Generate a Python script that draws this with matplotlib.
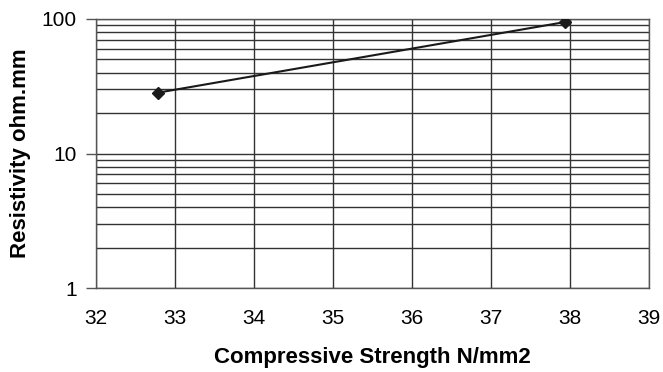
import numpy as np
import matplotlib.pyplot as plt
from matplotlib.ticker import LogLocator, NullFormatter

plt.rcParams['font.family'] = ['Liberation Sans', 'DejaVu Sans']

# compressive strength vs resistivity
strength = [32.78, 37.94]
resistivity = [28.3, 95.0]

x_ticks = [32, 33, 34, 35, 36, 37, 38, 39]
y_ticks = [1, 10, 100]
y_labels = ['1', '10', '100']

fig = plt.figure(figsize=(6.63, 3.72), dpi=100)
ax = fig.add_axes([96 / 663, 1 - 288 / 372, (649 - 96) / 663, (288 - 19) / 372])

ax.plot(strength, resistivity, color='#1a1a1a', lw=1.5, marker='D', ms=6, zorder=3)

ax.set_yscale('log')
ax.set_xlim(32, 39)
ax.set_ylim(1, 100)
ax.set_xticks(x_ticks)
ax.set_yticks(y_ticks)
ax.set_yticklabels(y_labels)
ax.yaxis.set_minor_locator(LogLocator(base=10, subs=np.arange(2, 10)))
ax.yaxis.set_minor_formatter(NullFormatter())

ax.grid(True, which='both', axis='y', color='#333333', lw=1.0)
ax.grid(True, which='major', axis='x', color='#333333', lw=1.0)
ax.tick_params(axis='y', which='major', length=7, width=1, color='#555555', labelsize=15, pad=7)
ax.tick_params(axis='y', which='minor', length=0)
ax.tick_params(axis='x', length=0, labelsize=15, pad=15)
for s in ax.spines.values():
    s.set_color('#555555')
    s.set_linewidth(1.0)

ax.set_xlabel('Compressive Strength N/mm2', fontsize=16, fontweight='bold')
ax.set_ylabel('Resistivity ohm.mm', fontsize=16, fontweight='bold')
ax.xaxis.set_label_coords(0.5, -(358 - 288) / (288 - 19), transform=ax.transAxes)
ax.xaxis.label.set_va('center')
ax.yaxis.set_label_coords(-(96 - 20) / (649 - 96), 0.5, transform=ax.transAxes)
ax.yaxis.label.set_va('center')

fig.savefig('out.png', dpi=100)
